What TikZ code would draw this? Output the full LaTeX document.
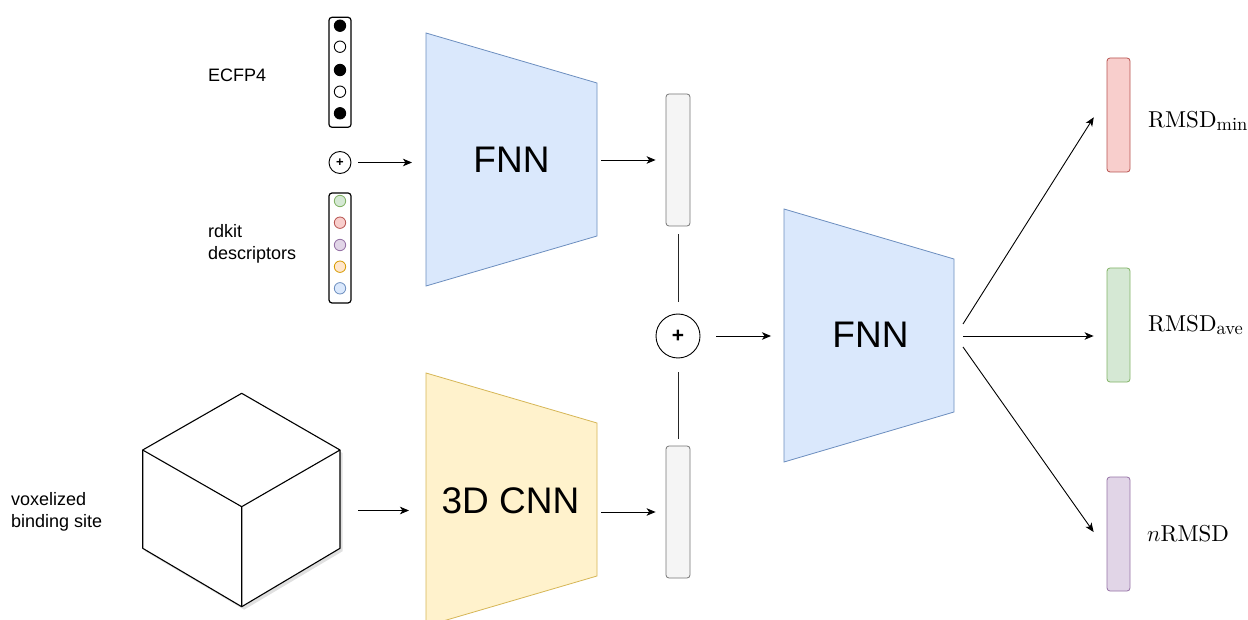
\documentclass[tikz,border=0pt]{standalone}
\usepackage{fix-cm}
\usepackage{fontspec}
\newfontfamily\sansf{Liberation Sans}
\newfontfamily\lmten{lmroman10-regular.otf}
\usetikzlibrary{arrows.meta}
\definecolor{blueF}{HTML}{DAE8FC}\definecolor{blueS}{HTML}{6C8EBF}
\definecolor{yelF}{HTML}{FFF2CC}\definecolor{yelS}{HTML}{D6B656}
\definecolor{redF}{HTML}{F8CECC}\definecolor{redS}{HTML}{B85450}
\definecolor{grnF}{HTML}{D5E8D4}\definecolor{grnS}{HTML}{82B366}
\definecolor{purF}{HTML}{E1D5E7}\definecolor{purS}{HTML}{9673A6}
\definecolor{orgF}{HTML}{FFE6CC}\definecolor{orgS}{HTML}{D79B00}
\definecolor{gryF}{HTML}{F5F5F5}\definecolor{gryS}{HTML}{777777}
\newcommand\lowsub[1]{\raisebox{-3pt}{\fontsize{18.5}{19}\selectfont #1}}
\tikzset{
  arr/.style={-{Stealth[length=9pt,width=7.5pt,inset=2.5pt]}, line width=0.9pt},
  conn/.style={line width=0.9pt, draw=black!85},
  vecbox/.style={rectangle, rounded corners=3pt, minimum width=22pt, minimum height=110pt, line width=1.2pt, draw=black, inner sep=0pt},
  featbar/.style={rectangle, rounded corners=3pt, minimum width=24pt, minimum height=132pt, line width=0.8pt, inner sep=0pt, fill=gryF, draw=gryS},
  outbar/.style={rectangle, rounded corners=3pt, minimum width=23pt, minimum height=114pt, line width=0.8pt, inner sep=0pt},
  bit/.style={circle, minimum size=11.4pt, inner sep=0pt, line width=0.9pt, draw=black},
  desc/.style={circle, minimum size=11.4pt, inner sep=0pt, line width=0.8pt},
  lbl/.style={font=\sansf\fontsize{18}{22}\selectfont, inner sep=0pt, align=left},
  big/.style={font=\sansf\fontsize{37}{40}\selectfont, inner sep=0pt},
  outlbl/.style={font=\lmten\fontsize{23}{26}\selectfont, inner sep=0pt, anchor=base west},
  trap/.style={line width=0.8pt},
}
\begin{document}
\begin{tikzpicture}[x=1pt,y=-1pt]
\useasboundingbox[fill=white] (0,0) rectangle (1248,620);

% ---------- ECFP4 bit vector ----------
\node[lbl, anchor=base west] (ecfplbl) at (208,81.7) {ECFP4};
\node[vecbox] (ecfp) at (340,72.3) {};
\node[bit, fill=black] (b1) at (340,25.7) {};
\node[bit, fill=white] (b2) at (340,46.7) {};
\node[bit, fill=black] (b3) at (340,70) {};
\node[bit, fill=white] (b4) at (340,91.7) {};
\node[bit, fill=black] (b5) at (340,113.3) {};

% ---------- concat 1 ----------
\node[circle, draw, line width=0.9pt, minimum size=22pt, inner sep=0pt,
      font=\sansf\bfseries\fontsize{13}{13}\selectfont] (plus1) at (340,162.5) {+};

% ---------- rdkit descriptors ----------
\node[lbl, anchor=west] (rdlbl) at (208,244.3) {rdkit\\descriptors};
\node[vecbox] (rdkit) at (340,248) {};
\node[desc, fill=grnF, draw=grnS] (d1) at (340,201) {};
\node[desc, fill=redF, draw=redS] (d2) at (340,222.7) {};
\node[desc, fill=purF, draw=purS] (d3) at (340,245) {};
\node[desc, fill=orgF, draw=orgS] (d4) at (340,266.7) {};
\node[desc, fill=blueF, draw=blueS] (d5) at (340,288.3) {};

% ---------- FNN 1 ----------
\draw[trap, fill=blueF, draw=blueS] (426,33) -- (597,83) -- (597,236) -- (426,286) -- cycle;
\coordinate (fnn1w) at (426,162.5);
\coordinate (fnn1e) at (597,160);
\node[big, anchor=base] (fnn1) at (511.5,173) {FNN};

% ---------- voxel cube ----------
\coordinate (cT) at (241.7,393.3);
\coordinate (cUL) at (142.7,450);
\coordinate (cUR) at (340,450);
\coordinate (cC) at (241.7,506.7);
\coordinate (cLL) at (142.7,548.3);
\coordinate (cLR) at (340,548.3);
\coordinate (cB) at (241.7,606.7);
\fill[black, opacity=0.12] ([shift={(2.5pt,-3pt)}]cT) -- ([shift={(2.5pt,-3pt)}]cUR) -- ([shift={(2.5pt,-3pt)}]cLR) -- ([shift={(2.5pt,-3pt)}]cB) -- ([shift={(2.5pt,-3pt)}]cLL) -- ([shift={(2.5pt,-3pt)}]cUL) -- cycle;
\draw[line width=1.1pt, fill=white, line join=round] (cT) -- (cUR) -- (cLR) -- (cB) -- (cLL) -- (cUL) -- cycle;
\draw[line width=1.1pt, line join=round] (cUL) -- (cC) -- (cUR) (cC) -- (cB);
\node[lbl, anchor=west] (voxlbl) at (11,511.4) {voxelized\\binding site};
\coordinate (cubeE) at (340,510.5);

% ---------- 3D CNN ----------
\draw[trap, fill=yelF, draw=yelS] (426,373) -- (597,423) -- (597,576) -- (426,626) -- cycle;
\coordinate (cnnw) at (426,510.5);
\coordinate (cnne) at (597,512);
\node[big, anchor=base] (cnn) at (510.5,513) {3D CNN};

% ---------- feature vectors ----------
\node[featbar] (bar1) at (678,160) {};
\node[featbar] (bar2) at (678,512) {};

% ---------- concat 2 ----------
\node[circle, draw, line width=0.9pt, minimum size=44pt, inner sep=0pt,
      font=\sansf\bfseries\fontsize{21}{21}\selectfont] (plus2) at (678,336) {+};

% ---------- FNN 2 ----------
\draw[trap, fill=blueF, draw=blueS] (784,209) -- (954,259) -- (954,412) -- (784,462) -- cycle;
\coordinate (fnn2w) at (784,336);
\node[big, anchor=base] (fnn2) at (870.5,348) {FNN};
\coordinate (o1) at (963,324);
\coordinate (o2) at (963,336);
\coordinate (o3) at (963,347);

% ---------- outputs ----------
\node[outbar, fill=redF, draw=redS] (rmin) at (1118.5,115) {};
\node[outbar, fill=grnF, draw=grnS] (rave) at (1118.5,325) {};
\node[outbar, fill=purF, draw=purS] (nrm) at (1118.5,534) {};
\node[outlbl] (lmin) at (1148,127.3) {RMSD\lowsub{min}};
\node[outlbl] (lave) at (1148,332) {RMSD\lowsub{ave}};
\node[outlbl] (lnr) at (1147,541.5) {$n$RMSD};

% ---------- connectors ----------
\draw[arr, shorten <=7pt, shorten >=14pt] (plus1.east) -- (fnn1w);
\draw[arr, shorten <=4pt, shorten >=10pt] (fnn1e) -- (bar1.west);
\draw[arr, shorten <=18pt, shorten >=17pt] (cubeE) -- (cnnw);
\draw[arr, shorten <=4pt, shorten >=10pt] (cnne) -- (bar2.west);
\draw[conn, shorten <=8pt, shorten >=12pt] (bar1.south) -- (plus2.north);
\draw[conn, shorten <=14pt, shorten >=7pt] (plus2.south) -- (bar2.north);
\draw[arr, shorten <=16pt, shorten >=13pt] (plus2.east) -- (fnn2w);
\draw[arr, shorten >=24pt] (o1) -- ([yshift=18pt]rmin.west);
\draw[arr, shorten >=13pt] (o2) -- ([yshift=-11pt]rave.west);
\draw[arr, shorten >=22.5pt] (o3) -- ([yshift=-16.4pt]nrm.west);
\end{tikzpicture}
\end{document}
